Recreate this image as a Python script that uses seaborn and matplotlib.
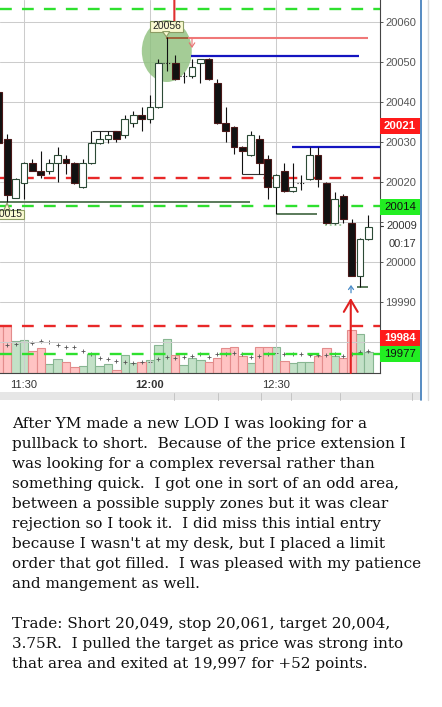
import numpy as np
import pandas as pd
import matplotlib
matplotlib.use('Agg')
import matplotlib.pyplot as plt
import matplotlib.transforms as mtransforms
from matplotlib.patches import Rectangle, Ellipse, Polygon
from matplotlib.lines import Line2D
import seaborn as sns

# 2-minute bars, bar 0 = 11:30
bar_idx = list(range(-3, 42))
opens = [20042.5, 20030.75, 20016, 20019.75, 20024.75, 20022.75, 20022.75, 20024.75, 20025.75, 20024.75,
         20018.75, 20024.75, 20029.75, 20030.75, 20032.75, 20031.75, 20034.75, 20036.75, 20035.75, 20038.75,
         20049.75, 20049.75, 20046.5, 20046.5, 20049.75, 20050.75, 20044.75, 20034.75, 20033.75, 20028.75,
         20026.75, 20030.75, 20025.75, 20018.75, 20022.75, 20017.75, 20019.75, 20020.75, 20026.75, 20019.75,
         20009.75, 20016.5, 20009.75, 19996.5, 20005.75]
highs = [20043, 20032, 20021, 20025, 20025.75, 20027.75, 20025.75, 20028.75, 20026.75, 20025,
         20025.75, 20032.75, 20032.75, 20032.75, 20032.75, 20036.75, 20037.75, 20038.75, 20041.75, 20050.75,
         20056.25, 20051.75, 20047.5, 20050.75, 20050.75, 20051, 20045.75, 20038.75, 20034, 20029,
         20032.75, 20031.75, 20026.75, 20022, 20024.75, 20024.75, 20021.75, 20028.75, 20028.75, 20020,
         20017.5, 20017, 20010.75, 20006, 20011.75]
lows = [20029.5, 20015, 20016, 20015.75, 20022.75, 20021, 20022, 20020, 20022, 20019.5,
        20018.5, 20024.5, 20029.5, 20029.75, 20030, 20031, 20033.75, 20032.75, 20034.75, 20038.5,
        20047.75, 20045.5, 20044.75, 20046, 20044.75, 20045.5, 20034.5, 20030, 20027, 20022,
        20026.5, 20022, 20015.75, 20012, 20017.5, 20017.5, 20018, 20020.5, 20018.75, 20009.5,
        20009.5, 20009.75, 19996.5, 19993.75, 20005.5]
closes = [20029.75, 20016.75, 20020.75, 20024.75, 20022.75, 20021.75, 20024.75, 20026.75, 20024.75, 20019.75,
          20024.75, 20029.75, 20030.75, 20031.75, 20030.75, 20035.75, 20036.75, 20035.75, 20038.75, 20049.75,
          20049.75, 20045.75, 20046.5, 20048.75, 20050.75, 20045.75, 20034.75, 20032.75, 20028.75, 20027.75,
          20031.75, 20024.75, 20018.75, 20021.75, 20017.75, 20018.75, 20019.75, 20026.75, 20020.75, 20009.75,
          20015.75, 20010.75, 19996.5, 20005.75, 20008.75]
volumes = [480, 480, 320, 330, 220, 250, 90, 140, 110, 60,
           70, 190, 70, 90, 30, 180, 100, 110, 130, 280,
           340, 180, 80, 150, 130, 110, 150, 250, 260, 170,
           100, 260, 260, 260, 120, 100, 110, 110, 170, 250,
           170, 150, 430, 390, 210]
vol_ma = [np.nan, 280, 290, 310, 300, 320, 310, 280, 260, 260,
          220, 190, 150, 140, 120, 110, 100, 110, 110, 140,
          160, 150, 160, 170, 190, 160, 190, 190, 200, 190,
          160, 170, 190, 200, 190, 190, 190, 180, 180, 180,
          190, 170, 190, 210, 220]

time_ticks = [0, 15, 30]
time_labels = ['11:30', '12:00', '12:30']
price_ticks = [19980, 19990, 20000, 20010, 20020, 20030, 20040, 20050, 20060]
price_labels = ['', '19990', '20000', '', '20020', '20030', '20040', '20050', '20060']

green_levels = [20063.25, 20014, 19977]
red_levels = [20021, 19984]
tag_text = ['20021', '20014', '19984', '19977']
tag_price = [20034, 20013.75, 19981, 19977]
tag_kind = ['red', 'green', 'red', 'green']

note_lines = [
    "After YM made a new LOD I was looking for a",
    "pullback to short.  Because of the price extension I",
    "was looking for a complex reversal rather than",
    "something quick.  I got one in sort of an odd area,",
    "between a possible supply zones but it was clear",
    "rejection so I took it.  I did miss this intial entry",
    "because I wasn't at my desk, but I placed a limit",
    "order that got filled.  I was pleased with my patience",
    "and mangement as well.",
    "",
    "Trade: Short 20,049, stop 20,061, target 20,004,",
    "3.75R.  I pulled the target as price was strong into",
    "that area and exited at 19,997 for +52 points.",
]

sns.set_style("white")
plt.rcParams['font.family'] = ['Liberation Sans', 'DejaVu Sans']

W, H = 442, 707
fig = plt.figure(figsize=(W / 100, H / 100), dpi=100)
fig.patch.set_facecolor('white')
rect = [0, 1 - 373 / H, 380 / W, 373 / H]
axv = fig.add_axes(rect)
ax = fig.add_axes(rect)
ax.patch.set_visible(False)

xlim = (-24 / 8.4, 356 / 8.4)
ylim = (19972.25, 20065.5)

# volume pane (behind the price pane)
df = pd.DataFrame({'idx': bar_idx, 'open': opens, 'high': highs, 'low': lows,
                   'close': closes, 'vol': volumes, 'ma': vol_ma})
df['dir'] = np.where(df['close'] >= df['open'], 'up', 'down')
for kind, fc, ec in [('up', '#C3E1C7', '#88B692'), ('down', '#FFC3C3', '#E38C8C')]:
    sub = df[df['dir'] == kind]
    sns.barplot(data=sub, x='idx', y='vol', native_scale=True, width=1.0, color=fc,
                edgecolor=ec, linewidth=0.8, saturation=1, errorbar=None, ax=axv)
sns.scatterplot(data=df, x='idx', y='ma', marker='+', s=9, color='#555555',
                linewidth=0.6, ax=axv, zorder=3)
axv.set_xlim(*xlim)
axv.set_ylim(0, 3730)
axv.set_axis_off()

# price pane
ax.set_xlim(*xlim)
ax.set_ylim(*ylim)
ax.set_axisbelow(True)
ax.grid(True, color='#CCCCCC', lw=0.75)
ax.set_xticks(time_ticks)
ax.set_xticklabels(time_labels)
ax.set_yticks(price_ticks)
ax.set_yticklabels(price_labels)
ax.yaxis.tick_right()
ax.tick_params(axis='y', direction='out', length=2.5, width=0.7, color='#555555',
               labelcolor='#555555', labelsize=8, pad=1.5)
ax.tick_params(axis='x', direction='out', length=3, width=0.7, color='#555555',
               labelcolor='#333333', labelsize=8, pad=2)
ax.get_xticklabels()[1].set_fontweight('bold')
for s in ['left', 'top']:
    ax.spines[s].set_visible(False)
for s in ['right', 'bottom']:
    ax.spines[s].set_color('#444444')
    ax.spines[s].set_linewidth(0.8)

dash = (0, (5, 4.3))
for p in green_levels:
    ax.axhline(p, color='#2EE02E', lw=1.7, ls=dash, zorder=2.5)
for p in red_levels:
    ax.axhline(p, color='#E82828', lw=1.7, ls=dash, zorder=2.5)

# green highlight circle around the high
ax.add_patch(Ellipse((17.0, 20052.75), 5.95, 15.5, fc='#8DC07C', ec='none', alpha=0.8, zorder=2))

# level segments
ax.hlines([20051.5, 20028.75], [19.9, 31.9], [39.9, 42.4], color='#1414C0', lw=1.6, zorder=2.6)
ax.hlines(20056, 19.5, 40.95, color='#F07878', lw=1.5, zorder=2.6)
ax.hlines(20056, 16.9, 19.5, color='#A0522D', lw=1.2, zorder=2.6)
ax.hlines([20015, 20012, 19993.75], [-2.9, 30.1, 39.6], [26.9, 34.9, 41.0],
          color='#5A7A5A', lw=1.4, zorder=2.6)
ax.hlines(20009.25, 35.8, 38.1, color='#9ACD9A', lw=1.3, ls=':', zorder=2.6)
ax.hlines([20032.75, 20022], [8.1, 26.0], [11.1, 29.0], color='#333333', lw=0.8, zorder=2.6)

# candles
x = df['idx'].values
o, c = df['open'].values, df['close'].values
lo, hi = df['low'].values, df['high'].values
body_lo = np.minimum(o, c)
body_h = np.abs(c - o)
ax.vlines(x, lo, hi, color='#111111', lw=0.8, zorder=3)
up = (c > o)
down = (c < o)
ax.bar(x[up], body_h[up], bottom=body_lo[up], width=0.8, color='white',
       edgecolor='#2C4A36', linewidth=0.8, zorder=4)
ax.bar(x[down], body_h[down], bottom=body_lo[down], width=0.8, color='#111111',
       edgecolor='#4A1818', linewidth=0.8, zorder=4)
doji = (c == o)
ax.hlines(c[doji], x[doji] - 0.45, x[doji] + 0.45, color='#222222', lw=0.8,
          linestyles=(0, (1, 1.5)), zorder=4)

# markers and arrows
ax.annotate('', xy=(17.9, 20057.5), xytext=(17.9, 20065.5),
            arrowprops=dict(arrowstyle='-|>,head_length=0.35,head_width=0.25',
                            color='#E03030', lw=1.5, shrinkA=0, shrinkB=0), zorder=6)
ax.annotate('', xy=(20.0, 20053.5), xytext=(20.0, 20055.75),
            arrowprops=dict(arrowstyle='->,head_length=0.3,head_width=0.2',
                            color='#E87070', lw=0.8, shrinkA=0, shrinkB=0), zorder=6)
ax.annotate('', xy=(38.93, 19994.25), xytext=(38.93, 19992.3),
            arrowprops=dict(arrowstyle='->,head_length=0.25,head_width=0.18',
                            color='#4A8CC8', lw=0.9, shrinkA=0, shrinkB=0), zorder=6)
ax.annotate('', xy=(38.9, 19991), xytext=(38.9, 19972.25),
            arrowprops=dict(arrowstyle='->,head_length=0.85,head_width=0.5',
                            color='#E02020', lw=1.5, shrinkA=0, shrinkB=0), zorder=6)

# price tags on the chart
ax.add_patch(Rectangle((15.0, 20057.5), 3.93, 2.75, fc='#FAFAD2', ec='#8C9C64', lw=0.8, zorder=7))
ax.add_patch(Polygon([(16.5, 20057.6), (17.35, 20057.6), (16.95, 20056.3)],
                     closed=True, fc='#FAFAD2', ec='#8C9C64', lw=0.8, zorder=7))
ax.text(16.96, 20058.9, '20056', ha='center', va='center', fontsize=7.5, color='#222222', zorder=8)
ax.add_patch(Rectangle((-3.81, 20010.75), 3.81, 2.25, fc='#FAFAD2', ec='#8C9C64', lw=0.8, zorder=7))
ax.add_patch(Polygon([(-2.4, 20012.95), (-1.65, 20012.95), (-2.02, 20014.75)],
                     closed=True, fc='#FAFAD2', ec='#8C9C64', lw=0.8, zorder=7))
ax.text(-1.9, 20011.9, '20015', ha='center', va='center', fontsize=7.5, color='#222222',
        zorder=8, clip_on=True)

# tags on the price axis
btr = mtransforms.blended_transform_factory(ax.transAxes, ax.transData)
for t, p, k in zip(tag_text, tag_price, tag_kind):
    fc = '#FF1A1A' if k == 'red' else '#22EE22'
    tc = 'white' if k == 'red' else '#111111'
    ax.add_patch(Rectangle((1.0, p - 1.9), 0.105, 3.8, transform=btr, fc=fc, ec='none',
                           clip_on=False, zorder=8))
    ax.text(1.0526, p, t, transform=btr, ha='center', va='center', fontsize=8.2,
            color=tc, fontweight='bold' if k == 'red' else 'normal', zorder=9, clip_on=False)
ax.add_line(Line2D([1.0, 1.009], [20009, 20009], transform=btr, color='#333333', lw=0.8, clip_on=False))
ax.text(1.0158, 20009, '20009', transform=btr, ha='left', va='center', fontsize=8,
        color='#333333', clip_on=False)
ax.text(1.058, 20004.5, '00:17', transform=btr, ha='center', va='center', fontsize=8,
        color='#333333', clip_on=False)

# toolbar strip and borders
fig.add_artist(Rectangle((0, 1 - 400 / H), 420 / W, 8 / H, transform=fig.transFigure,
                         fc='#E6E6E6', ec='none'))
for sx in [174, 218, 261, 291, 340, 412]:
    fig.add_artist(Line2D([sx / W, sx / W], [1 - 400 / H, 1 - 393 / H], transform=fig.transFigure,
                          color='#C4C4C4', lw=0.7))
fig.add_artist(Line2D([421 / W, 421 / W], [1, 1 - 400 / H], transform=fig.transFigure,
                      color='#3A78B8', lw=1.2))
fig.add_artist(Line2D([428 / W, 428 / W], [1, 1 - 400 / H], transform=fig.transFigure,
                      color='#DADADA', lw=1.0))

# note text
for k, line in enumerate(note_lines):
    fig.text(12 / W, 1 - (427.7 + 20 * k) / H, line, ha='left', va='baseline',
             fontsize=11, color='#111111', family=['DejaVu Serif'])

fig.savefig('out.png', dpi=100, facecolor='white')
